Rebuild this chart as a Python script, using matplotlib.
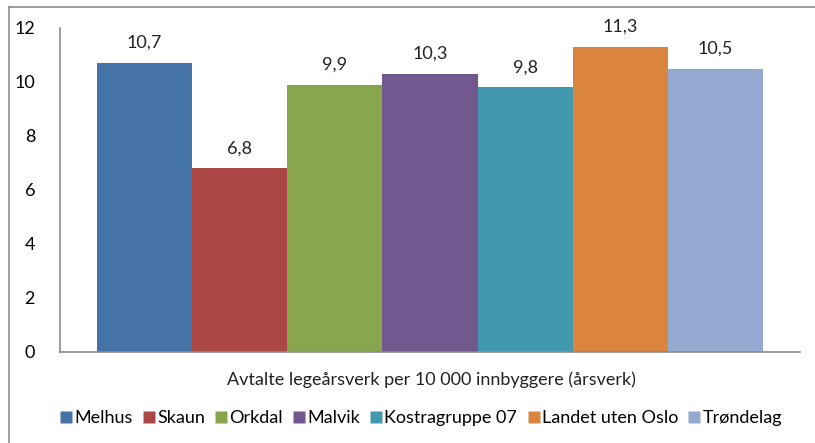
import matplotlib.pyplot as plt
from matplotlib.lines import Line2D

plt.rcParams["font.family"] = ["Lato", "DejaVu Sans"]

# data
labels = ["Melhus", "Skaun", "Orkdal", "Malvik", "Kostragruppe 07", "Landet uten Oslo", "Trøndelag"]
values = [10.7, 6.8, 9.9, 10.3, 9.8, 11.3, 10.5]
value_text = ["10,7", "6,8", "9,9", "10,3", "9,8", "11,3", "10,5"]
colors = ["#4572a7", "#aa4643", "#89a54e", "#71588f", "#4198af", "#db843d", "#93a9cf"]
yticks = [0, 2, 4, 6, 8, 10, 12]
xlabel = "Avtalte legeårsverk per 10 000 innbyggere (årsverk)"

fig = plt.figure(figsize=(8.15, 4.43), dpi=100)
ax = fig.add_axes([60 / 815, 1 - 352 / 443, 740 / 815, 324 / 443])

n = len(values)
w = 1.0 / n
for i, (v, c, t, lab) in enumerate(zip(values, colors, value_text, labels)):
    x = -0.5 + w * (i + 0.5)
    ax.bar(x, v, width=w, color=c, label=lab, edgecolor="none")
    ax.text(x, v + 0.45, t, ha="center", va="bottom", fontsize=13, color="#222222")

ax.set_xlim(-0.5 - 0.0552, 0.5 + 0.0552)
ax.set_ylim(0, 12)
ax.set_yticks(yticks)
ax.set_yticklabels([str(t) for t in yticks], fontsize=13)
ax.tick_params(axis="y", length=0, pad=18)
ax.set_xticks([])

for s in ["top", "right"]:
    ax.spines[s].set_visible(False)
for s in ["left", "bottom"]:
    ax.spines[s].set_color("#8c8c8c")
    ax.spines[s].set_linewidth(1.2)

fig.text(431 / 815, 1 - 380 / 443, xlabel, ha="center", va="center", fontsize=13, color="#222222")

handles = [Line2D([], [], marker="s", linestyle="none", markersize=8,
                  markerfacecolor=c, markeredgecolor="none") for c in colors]
fig.legend(handles, labels, loc="center", bbox_to_anchor=(420 / 815, 1 - 418 / 443),
           ncol=n, frameon=False, fontsize=13, handletextpad=0.0,
           columnspacing=0.45, handlelength=0.9)

# outer chart frame (top and left edges visible)
fig.add_artist(Line2D([9 / 815, 9 / 815], [0, 1 - 7 / 443], transform=fig.transFigure,
                      color="#8c8c8c", linewidth=1.2))
fig.add_artist(Line2D([9 / 815, 1], [1 - 7 / 443, 1 - 7 / 443], transform=fig.transFigure,
                      color="#8c8c8c", linewidth=1.2))

fig.savefig("out.png", dpi=100)
